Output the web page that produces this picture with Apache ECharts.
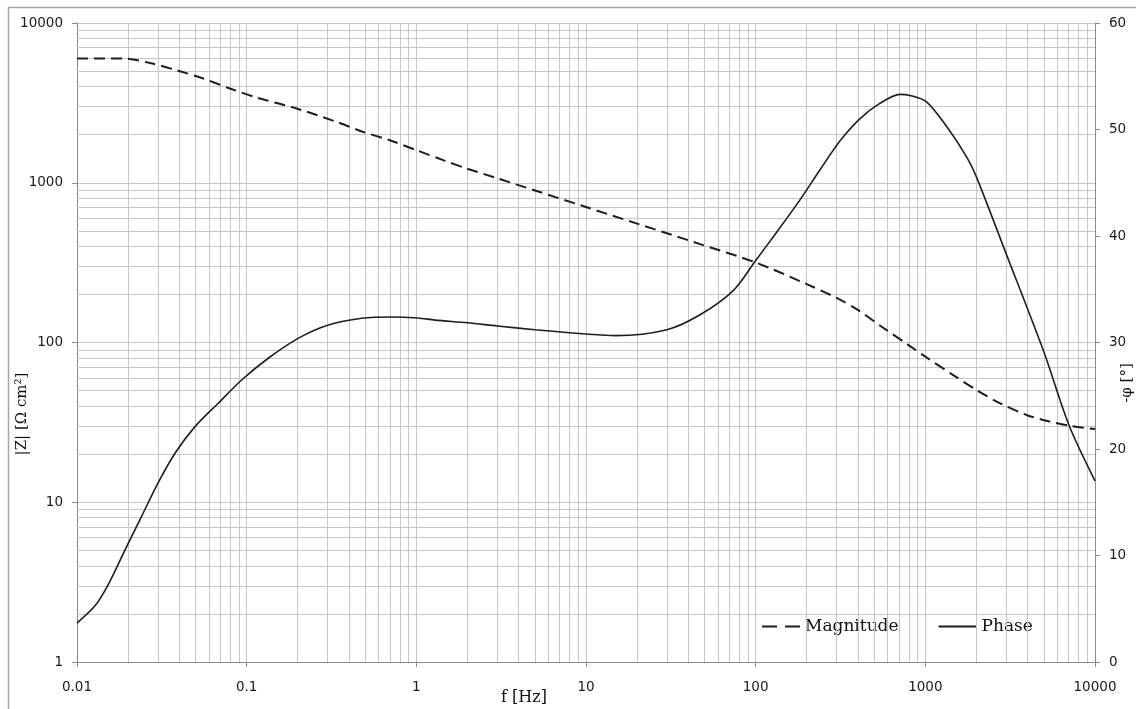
<!DOCTYPE html>
<html>
<head>
<meta charset="utf-8">
<script src="https://cdn.jsdelivr.net/npm/echarts@6/dist/echarts.min.js"></script>
<style>
html,body{margin:0;padding:0;background:#fff;}
#chart{width:1136px;height:709px;}
</style>
</head>
<body>
<div id="chart"></div>
<script>
// ---- data ----
var magFreq = [0.01, 0.0187, 0.0269, 0.0387, 0.0555, 0.0797, 0.115, 0.197, 0.339, 0.487, 0.698, 1.0, 1.44, 1.98, 3, 5, 10, 20, 30, 47, 100, 200, 300, 400, 550, 800, 1000, 1460, 2000, 2750, 3950, 5400, 7100, 10000];
var magnitude = [6000, 6000, 5620, 5060, 4490, 3890, 3410, 2915, 2405, 2080, 1845, 1600, 1385, 1228, 1067, 895, 705, 555, 483, 413, 317, 232, 190, 160, 126, 96, 81.5, 62.5, 50.5, 41.7, 35.2, 32, 30.1, 28.7];
var phaseFreq = [0.01, 0.0128, 0.0153, 0.0192, 0.024, 0.030, 0.0378, 0.0496, 0.068, 0.0934, 0.134, 0.201, 0.303, 0.476, 0.715, 1.02, 1.29, 2, 3, 5, 10, 15, 30, 47, 74, 99, 133, 182, 239, 313, 411, 539, 708, 811, 1016, 1333, 1750, 2000, 3000, 5000, 7000, 10000];
var phase = [3.66, 5.3, 7.3, 10.53, 13.66, 16.79, 19.6, 22.1, 24.3, 26.48, 28.52, 30.39, 31.64, 32.27, 32.4, 32.3, 32.1, 31.85, 31.55, 31.2, 30.8, 30.65, 31.2, 32.6, 34.9, 37.6, 40.36, 43.37, 46.2, 48.9, 51.0, 52.45, 53.3, 53.2, 52.6, 50.3, 47.43, 45.55, 38.3, 29.1, 22.3, 17.0];
var xTickLabels = ['0.01', '0.1', '1', '10', '100', '1000', '10000'];
var yTickLabels = ['1', '10', '100', '1000', '10000'];
var phaseTickLabels = ['0', '10', '20', '30', '40', '50', '60'];
var seriesNames = ['Magnitude', 'Phase'];
var xTitle = 'f [Hz]';
var yTitle = '|Z| [Ω cm²]';
var y2Title = '-φ [°]';

// ---- build ----
function pairs(xs, ys) { return xs.map(function (x, i) { return [x, ys[i]]; }); }
var xMinorLines = [], yMinorLines = [];
for (var e = -2; e < 4; e++) for (var k = 2; k <= 9; k++) xMinorLines.push({ xAxis: k * Math.pow(10, e) });
for (var e2 = 0; e2 < 4; e2++) for (var k2 = 2; k2 <= 9; k2++) yMinorLines.push({ yAxis: k2 * Math.pow(10, e2) });

var gridColor = '#c6c6c6';
var axisColor = '#8a8a8a';
var lineColor = '#1e1e1e';
var labelFont = { fontFamily: 'DejaVu Sans', fontSize: 13.5, color: '#1a1a1a' };

var chart = echarts.init(document.getElementById('chart'), null, { renderer: 'canvas' });
chart.setOption({
  animation: false,
  backgroundColor: '#ffffff',
  grid: { left: 77, right: 41, top: 23, bottom: 47, containLabel: false },
  legend: {
    left: 762, top: 618, padding: 0,
    itemWidth: 38, itemHeight: 2, itemGap: 40,
    textStyle: { fontFamily: 'DejaVu Serif', fontSize: 17, color: '#111' },
    data: [
      { name: seriesNames[0], icon: 'path://M0,0h15v2h-15zM23,0h15v2h-15z' },
      { name: seriesNames[1], icon: 'path://M0,0h38v2h-38z' }
    ]
  },
  xAxis: {
    type: 'log', logBase: 10, min: 0.01, max: 10000,
    axisLine: { show: true, lineStyle: { color: axisColor, width: 1 } },
    axisTick: { show: true, inside: false, length: 5, lineStyle: { color: axisColor } },
    axisLabel: Object.assign({ margin: 18, formatter: function (v) {
      var i = Math.round(Math.log10(v)) + 2; return xTickLabels[i] || ''; } }, labelFont),
    splitLine: { show: true, lineStyle: { color: gridColor, width: 1 } },
    minorTick: { show: false }, minorSplitLine: { show: false }
  },
  yAxis: [{
    type: 'log', logBase: 10, min: 1, max: 10000,
    axisLine: { show: true, onZero: false, lineStyle: { color: axisColor, width: 1 } },
    axisTick: { show: true, inside: false, length: 5, lineStyle: { color: axisColor } },
    axisLabel: Object.assign({ margin: 14, formatter: function (v) {
      var i = Math.round(Math.log10(v)); return yTickLabels[i] || ''; } }, labelFont),
    splitLine: { show: true, lineStyle: { color: gridColor, width: 1 } }
  }, {
    type: 'value', min: 0, max: 60, interval: 10, position: 'right',
    axisLine: { show: true, onZero: false, lineStyle: { color: axisColor, width: 1 } },
    axisTick: { show: true, inside: false, length: 5, lineStyle: { color: axisColor } },
    axisLabel: Object.assign({ margin: 14, formatter: function (v) {
      return phaseTickLabels[Math.round(v / 10)] || ''; } }, labelFont),
    splitLine: { show: false }
  }],
  graphic: [
    { type: 'rect', silent: true, z: -10, shape: { x: 8.5, y: 7.5, width: 1300, height: 900 },
      style: { fill: 'none', stroke: '#a6a6a6', lineWidth: 1.5 } },
    { type: 'text', x: 524, y: 698, silent: true,
      style: { text: xTitle, font: '16px "DejaVu Serif"', fill: '#111', textAlign: 'center', textVerticalAlign: 'middle' } },
    { type: 'text', x: 22, y: 414, rotation: Math.PI / 2, silent: true,
      style: { text: yTitle, font: '15px "DejaVu Serif"', fill: '#111', textAlign: 'center', textVerticalAlign: 'middle' } },
    { type: 'text', x: 1127, y: 383, rotation: Math.PI / 2, silent: true,
      style: { text: y2Title, font: '15px "DejaVu Serif"', fill: '#111', textAlign: 'center', textVerticalAlign: 'middle' } }
  ],
  series: [
    { name: '_grid', type: 'line', data: [], z: 1, silent: true,
      markLine: { silent: true, symbol: 'none', animation: false, label: { show: false },
        lineStyle: { color: gridColor, type: 'solid', width: 1 },
        emphasis: { disabled: true },
        data: xMinorLines.concat(yMinorLines) } },
    { name: seriesNames[0], type: 'line', yAxisIndex: 0, z: 5, data: pairs(magFreq, magnitude),
      smooth: 0.3, symbol: 'none', showSymbol: false,
      lineStyle: { color: lineColor, width: 2, type: [11, 6] }, itemStyle: { color: lineColor } },
    { name: seriesNames[1], type: 'line', yAxisIndex: 1, z: 5, data: pairs(phaseFreq, phase),
      smooth: 0.3, symbol: 'none', showSymbol: false,
      lineStyle: { color: lineColor, width: 1.6, type: 'solid' }, itemStyle: { color: lineColor } }
  ]
});
</script>
</body>
</html>
